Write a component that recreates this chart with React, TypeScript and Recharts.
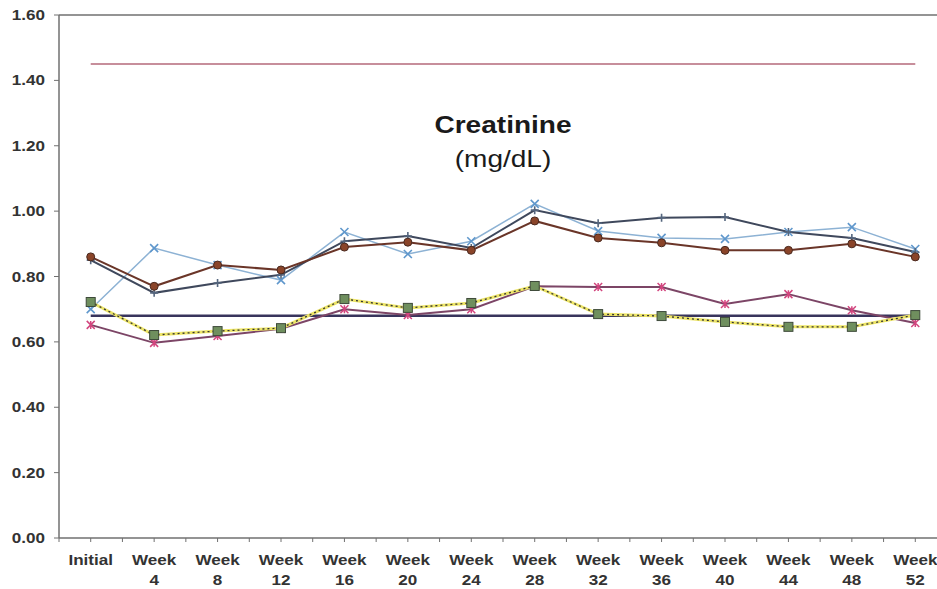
import React from 'react';
import { LineChart, Line, XAxis, YAxis, ReferenceLine } from 'recharts';

const CATEGORIES = ['Initial', 'Week 4', 'Week 8', 'Week 12', 'Week 16', 'Week 20', 'Week 24', 'Week 28', 'Week 32', 'Week 36', 'Week 40', 'Week 44', 'Week 48', 'Week 52'];
const CIRCLE_VALUES = [0.86, 0.77, 0.835, 0.82, 0.89, 0.905, 0.88, 0.97, 0.918, 0.903, 0.88, 0.88, 0.9, 0.86];
const PLUS_VALUES = [0.85, 0.75, 0.78, 0.805, 0.908, 0.924, 0.887, 1.003, 0.963, 0.98, 0.982, 0.936, 0.918, 0.875];
const CROSS_VALUES = [0.7, 0.887, 0.835, 0.789, 0.936, 0.869, 0.908, 1.022, 0.939, 0.918, 0.915, 0.936, 0.951, 0.884];
const SQUARE_VALUES = [0.722, 0.621, 0.633, 0.642, 0.731, 0.704, 0.719, 0.771, 0.685, 0.679, 0.661, 0.646, 0.646, 0.682];
const STAR_VALUES = [0.652, 0.597, 0.618, 0.64, 0.7, 0.682, 0.7, 0.77, 0.768, 0.768, 0.716, 0.746, 0.697, 0.658];
const UPPER_LIMIT = 1.45;
const LOWER_LIMIT = 0.68;
const Y_TICKS = [0, 0.2, 0.4, 0.6, 0.8, 1.0, 1.2, 1.4, 1.6];

const data = CATEGORIES.map((label, i) => ({
    label,
    circle: CIRCLE_VALUES[i],
    plus: PLUS_VALUES[i],
    cross: CROSS_VALUES[i],
    square: SQUARE_VALUES[i],
    star: STAR_VALUES[i],
}));

const FONT = '"Liberation Sans", Arial, sans-serif';
const STRETCH = 1.22;
const AXIS_COLOR = '#707070';

const XTick = (props: any) => {
    const { x, y, payload } = props;
    const parts = String(payload.value).split(' ');
    const half = payload.offset || 0;
    return (
        <g>
            {half ? <line x1={x - half} x2={x - half} y1={y - 6} y2={y - 2} stroke={AXIS_COLOR} strokeWidth={1} /> : null}
            {parts.map((p, i) => (
                <text key={i} transform={`translate(${x},${y + 21 + i * 20}) scale(${STRETCH},1)`} textAnchor="middle"
                    fontFamily={FONT} fontWeight="bold" fontSize={14} fill="#333">{p}</text>
            ))}
        </g>
    );
};

const YTick = (props: any) => {
    const { x, y, payload } = props;
    return (
        <text transform={`translate(${x},${y + 5}) scale(${STRETCH},1)`} textAnchor="end"
            fontFamily={FONT} fontWeight="bold" fontSize={14} fill="#333">{Number(payload.value).toFixed(2)}</text>
    );
};

const CircleDot = (props: any) => {
    const { cx, cy, index } = props;
    if (cx == null || cy == null) return <g key={index} />;
    return <circle key={index} cx={cx} cy={cy} r={4} fill="#8a4429" stroke="#4a2a20" strokeWidth={1} />;
};

const PlusDot = (props: any) => {
    const { cx, cy, index } = props;
    if (cx == null || cy == null) return <g key={index} />;
    return <path key={index} d={`M${cx - 4},${cy}h8M${cx},${cy - 4}v8`} stroke="#55667e" strokeWidth={1.6} />;
};

const CrossDot = (props: any) => {
    const { cx, cy, index } = props;
    if (cx == null || cy == null) return <g key={index} />;
    return <path key={index} d={`M${cx - 4},${cy - 4}l8,8M${cx - 4},${cy + 4}l8,-8`} stroke="#5f97cc" strokeWidth={1.6} />;
};

const SquareDot = (props: any) => {
    const { cx, cy, index } = props;
    if (cx == null || cy == null) return <g key={index} />;
    return <rect key={index} x={cx - 4.5} y={cy - 4.5} width={9} height={9} fill="#6f8f5e" stroke="#3e4a3a" strokeWidth={1} />;
};

const StarDot = (props: any) => {
    const { cx, cy, index } = props;
    if (cx == null || cy == null) return <g key={index} />;
    return <path key={index} d={`M${cx - 4},${cy - 4}l8,8M${cx - 4},${cy + 4}l8,-8M${cx},${cy - 4}v8`} stroke="#d2457e" strokeWidth={1.5} />;
};

export default function App() {
    return (
        <div style={{ position: 'fixed', left: 0, top: 0, width: 937, height: 589, overflow: 'hidden', background: '#fff' }}>
            <LineChart width={950} height={589} data={data} margin={{ top: 15, right: 3, left: 0, bottom: 0 }}>
                <XAxis dataKey="label" scale="band" interval={0} height={51} tickSize={4} tickMargin={2}
                    axisLine={{ stroke: AXIS_COLOR, strokeWidth: 1.5 }} tickLine={{ stroke: AXIS_COLOR }} tick={<XTick />} />
                <YAxis type="number" domain={[0, 1.6]} ticks={Y_TICKS} width={59} tickSize={5} tickMargin={9}
                    axisLine={{ stroke: AXIS_COLOR, strokeWidth: 1.5 }} tickLine={{ stroke: AXIS_COLOR }} tick={<YTick />} />
                <ReferenceLine y={1.6} stroke={AXIS_COLOR} strokeWidth={1.5} />
                <ReferenceLine segment={[{ x: 'Initial', y: UPPER_LIMIT }, { x: 'Week 52', y: UPPER_LIMIT }]} stroke="#b4687a" strokeWidth={1.5} />
                <ReferenceLine segment={[{ x: 'Initial', y: LOWER_LIMIT }, { x: 'Week 52', y: LOWER_LIMIT }]} stroke="#38345c" strokeWidth={2.5} />
                <Line dataKey="cross" stroke="#8db2d4" strokeWidth={1.5} dot={CrossDot} isAnimationActive={false} />
                <Line dataKey="plus" stroke="#3f485c" strokeWidth={2} dot={PlusDot} isAnimationActive={false} />
                <Line dataKey="circle" stroke="#6a3528" strokeWidth={2} dot={CircleDot} isAnimationActive={false} />
                <Line dataKey="star" stroke="#7c4566" strokeWidth={2} dot={false} isAnimationActive={false} />
                <Line dataKey="star" stroke="none" dot={StarDot} isAnimationActive={false} legendType="none" />
                <Line dataKey="square" stroke="#ede567" strokeWidth={3} dot={false} isAnimationActive={false} />
                <Line dataKey="square" stroke="#333" strokeWidth={1.3} strokeDasharray="2 3" dot={SquareDot} isAnimationActive={false} />
            </LineChart>
            <svg width={937} height={589} style={{ position: 'absolute', left: 0, top: 0, pointerEvents: 'none' }}>
                <text transform={`translate(503,133) scale(${STRETCH},1)`} textAnchor="middle" fontFamily={FONT}
                    fontWeight="bold" fontSize={23} fill="#1a1a1a">Creatinine</text>
                <text transform={`translate(503,167) scale(${STRETCH},1)`} textAnchor="middle" fontFamily={FONT}
                    fontSize={23} fill="#1a1a1a">(mg/dL)</text>
            </svg>
        </div>
    );
}
